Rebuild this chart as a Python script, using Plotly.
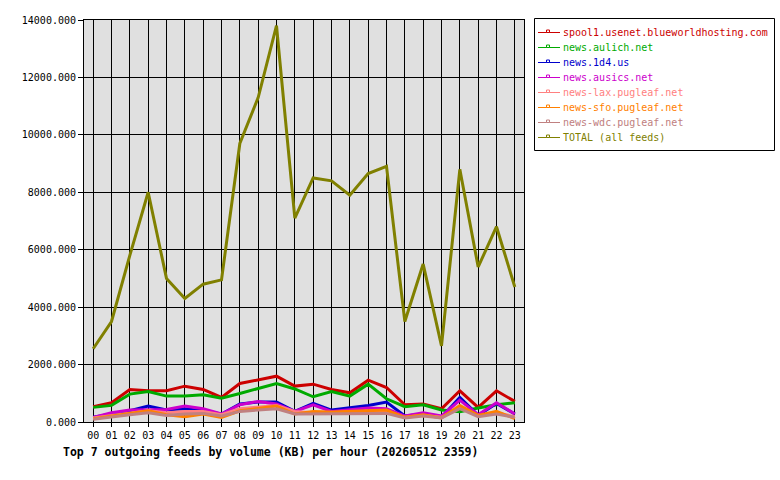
import plotly.graph_objects as go

hours = [f"{h:02d}" for h in range(24)]

spool1 = [532, 670, 1133, 1087, 1087, 1248, 1133, 855, 1341, 1456, 1595, 1250,
          1318, 1133, 1017, 1456, 1202, 601, 624, 462, 1087, 509, 1087, 717]
aulich = [509, 578, 971, 1064, 902, 902, 948, 832, 994, 1179, 1341, 1150,
          879, 1064, 902, 1318, 809, 532, 601, 416, 360, 486, 601, 670]
d4 = [162, 277, 393, 555, 416, 462, 393, 277, 624, 694, 694, 370,
      647, 416, 486, 578, 694, 208, 277, 162, 855, 231, 647, 277]
ausics = [162, 324, 416, 439, 439, 555, 462, 277, 601, 717, 624, 370,
          601, 370, 416, 486, 462, 208, 324, 208, 763, 254, 670, 277]
lax = [139, 231, 324, 393, 324, 370, 370, 254, 462, 509, 578, 370,
       324, 324, 347, 370, 370, 162, 231, 162, 509, 208, 324, 185]
sfo = [116, 208, 324, 393, 254, 185, 277, 162, 393, 462, 555, 277,
       370, 347, 370, 393, 416, 162, 254, 139, 578, 231, 370, 116]
wdc = [92, 185, 254, 324, 231, 277, 300, 208, 370, 416, 462, 277,
       277, 277, 277, 300, 300, 139, 208, 139, 462, 185, 277, 162]
total = [2550, 3500, 5800, 8000, 5000, 4300, 4800, 4950, 9700, 11300, 13800, 7100,
         8500, 8400, 7900, 8650, 8900, 3500, 5500, 2650, 8800, 5400, 6800, 4700]

names = ["spool1.usenet.blueworldhosting.com", "news.aulich.net", "news.1d4.us",
         "news.ausics.net", "news-lax.pugleaf.net", "news-sfo.pugleaf.net",
         "news-wdc.pugleaf.net", "TOTAL (all feeds)"]
values = [spool1, aulich, d4, ausics, lax, sfo, wdc, total]
colors = ["#cc0000", "#00aa00", "#0000cc", "#cc00cc", "#ff8080", "#ff8000",
          "#c08080", "#808000"]

W, H = 780, 480
L, R, T, B = 84, 524, 20, 422
font = "DejaVu Sans Mono, Liberation Mono, monospace"


def px(x):
    return (x - L) / (R - L)


def py(y):
    return (B - y) / (B - T)


fig = go.Figure()
for name, vals, col in zip(names, values, colors):
    fig.add_trace(go.Scatter(x=hours, y=vals, mode="lines",
                             line=dict(color=col, width=3), name=name,
                             showlegend=False))

shapes = [dict(type="rect", xref="paper", yref="paper",
               x0=px(534.5), x1=px(774.5), y0=py(150.5), y1=py(18.5),
               line=dict(color="black", width=1), fillcolor="white", layer="above")]
annotations = []
for i, (name, col) in enumerate(zip(names, colors)):
    yy = 32.5 + 15 * i
    shapes.append(dict(type="line", xref="paper", yref="paper",
                       x0=px(538), x1=px(560), y0=py(yy), y1=py(yy),
                       line=dict(color=col, width=1), layer="above"))
    shapes.append(dict(type="rect", xref="paper", yref="paper",
                       x0=px(546.5), x1=px(549.5), y0=py(yy), y1=py(yy - 2.5),
                       line=dict(color=col, width=1), fillcolor="white", layer="above"))
    annotations.append(dict(text=name, xref="paper", yref="paper",
                            x=px(561), y=py(yy), xanchor="left", yanchor="middle",
                            showarrow=False, font=dict(family=font, size=10, color=col)))

annotations.append(dict(text="<b>Top 7 outgoing feeds by volume (KB) per hour (20260512 2359)</b>",
                        xref="paper", yref="paper", x=px(61), y=py(452),
                        xanchor="left", yanchor="middle", showarrow=False,
                        font=dict(family=font, size=11.5, color="black")))

fig.update_layout(
    width=W, height=H,
    margin=dict(l=L, r=W - R, t=T, b=H - B),
    paper_bgcolor="white", plot_bgcolor="#e0e0e0",
    font=dict(family=font, size=10, color="black"),
    showlegend=False,
    xaxis=dict(range=[-0.5, 23.5], showgrid=True, gridcolor="black", gridwidth=1,
               showline=True, linecolor="black", linewidth=1, mirror=True,
               ticks="outside", ticklen=4, tickcolor="black", zeroline=False,
               tickfont=dict(family=font, size=10)),
    yaxis=dict(range=[0, 14000], dtick=2000, tickformat=".3f",
               showgrid=True, gridcolor="black", gridwidth=1,
               showline=True, linecolor="black", linewidth=1, mirror=True,
               ticks="outside", ticklen=5, tickcolor="black", zeroline=False,
               tickfont=dict(family=font, size=10)),
    shapes=shapes,
    annotations=annotations,
)

fig.write_html("out.html")
